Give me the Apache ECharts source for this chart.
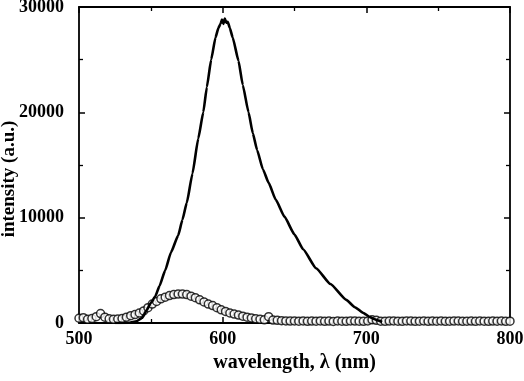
<!DOCTYPE html>
<html>
<head>
<meta charset="utf-8">
<script src="https://cdn.jsdelivr.net/npm/echarts@6/dist/echarts.min.js"></script>
<style>html,body{margin:0;padding:0;background:#fff}#c{width:524px;height:381px}</style>
</head>
<body>
<div id="c"></div>
<script>
// Main emission curve (solid line)
const lineWavelength = [525,535,540,544,547,550,553,556,560,564,569,572,575,579,583,586.5,589,592,595,597,598.5,599.5,600.5,601.5,602.5,603.5,605,607,611,614,618,621,624,628,632,637,643,650,656,665,675,686,692,698,702,705,708,711];
const lineIntensity = [0,30,150,500,1200,1900,2500,3500,5000,6700,8300,9800,11400,14200,17500,20000,22400,25000,27100,28000,28400,28800,28400,28900,28500,28600,28000,27100,24900,22600,20000,18000,16400,14600,13300,11700,10100,8400,7000,5200,3700,2200,1500,950,600,400,250,100];

// Second spectrum (open circles)
const circleWavelength = [500,503,506,509,512,515,518,521,524,527,530,533,536,539,542,545,548,551,554,557,560,563,566,569,572,575,578,581,584,587,590,593,596,599,602,605,608,611,614,617,620,623,626,629,632,635,638,641,644,647,650,653,656,659,662,665,668,671,674,677,680,683,686,689,692,695,698,701,704,707,710,713,716,719,722,725,728,731,734,737,740,743,746,749,752,755,758,761,764,767,770,773,776,779,782,785,788,791,794,797,800];
const circleIntensity = [450,500,350,420,600,900,550,400,350,380,420,550,700,800,950,1150,1450,1800,2050,2300,2450,2600,2700,2750,2750,2700,2550,2400,2200,2000,1800,1650,1450,1250,1100,950,850,750,650,550,480,400,350,300,600,280,250,220,200,180,190,170,200,160,180,170,200,160,180,150,190,170,160,200,180,170,160,190,300,250,170,160,180,190,170,160,200,180,160,170,190,160,180,170,200,160,170,180,190,160,170,180,160,190,170,160,180,170,190,160,170];

const ticksX = {min:500, max:800, interval:100};
const ticksY = {min:0, max:30000, interval:10000};

const FONT = '"Liberation Serif","Times New Roman",serif';
const lineS = {show:true, onZero:false, lineStyle:{color:'#000', width:1.8}};
const tickS = {show:true, inside:true, length:6, lineStyle:{color:'#000', width:1.5}};
const minorS = {show:true, splitNumber:2, length:4, lineStyle:{color:'#000', width:1.3}};
const labelS = {color:'#000', fontFamily:FONT, fontWeight:'bold', fontSize:18, formatter:v=>String(v)};

const chart = echarts.init(document.getElementById('c'), null, {renderer:'canvas'});
chart.setOption({
  animation:false,
  backgroundColor:'#fff',
  grid:{left:79, right:14, top:7, bottom:58, containLabel:false, outerBoundsMode:'none'},
  xAxis:[
    {type:'value', position:'bottom', min:ticksX.min, max:ticksX.max, interval:ticksX.interval,
     axisLine:lineS, axisTick:tickS, minorTick:minorS, splitLine:{show:false},
     axisLabel:Object.assign({margin:7}, labelS),
     name:'wavelength, \u03bb (nm)', nameLocation:'middle', nameGap:30, nameMoveOverlap:false,
     nameTextStyle:{color:'#000', fontFamily:FONT, fontWeight:'bold', fontSize:20}},
    {type:'value', position:'top', min:ticksX.min, max:ticksX.max, interval:ticksX.interval,
     axisLine:lineS, axisTick:tickS, minorTick:minorS, splitLine:{show:false},
     axisLabel:{show:false}}
  ],
  yAxis:[
    {type:'value', position:'left', min:ticksY.min, max:ticksY.max, interval:ticksY.interval,
     axisLine:lineS, axisTick:tickS, minorTick:minorS, splitLine:{show:false},
     axisLabel:Object.assign({margin:15}, labelS),
     name:'intensity (a.u.)', nameLocation:'middle', nameGap:60, nameMoveOverlap:false,
     nameTextStyle:{color:'#000', fontFamily:FONT, fontWeight:'bold', fontSize:19, padding:[0,28,0,0]}},
    {type:'value', position:'right', min:ticksY.min, max:ticksY.max, interval:ticksY.interval,
     axisLine:lineS, axisTick:tickS, minorTick:minorS, splitLine:{show:false},
     axisLabel:{show:false}}
  ],
  series:[
    {type:'scatter', xAxisIndex:0, yAxisIndex:0, z:2,
     data: circleWavelength.map((w,i)=>[w, circleIntensity[i]]),
     symbol:'circle', symbolSize:8,
     itemStyle:{color:'#fff', borderColor:'#000', borderWidth:1.5}},
    {type:'line', xAxisIndex:0, yAxisIndex:0, z:3,
     data: lineWavelength.map((w,i)=>[w, lineIntensity[i]]),
     showSymbol:false, symbol:'none', smooth:0.15, smoothMonotone:'x',
     lineStyle:{color:'#000', width:2.6}}
  ]
});
</script>
</body>
</html>
